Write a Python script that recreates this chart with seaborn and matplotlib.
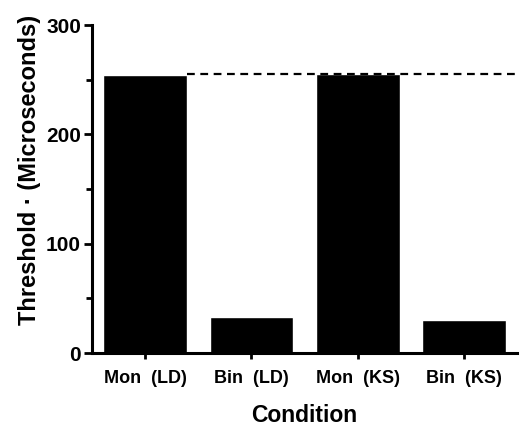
import pandas as pd
import seaborn as sns
import matplotlib.pyplot as plt

# data
conditions = ['Mon  (LD)', 'Bin  (LD)', 'Mon  (KS)', 'Bin  (KS)']
thresholds = [254, 33, 255, 30]
ref_level = 255

df = pd.DataFrame({'Condition': conditions, 'Threshold': thresholds})

sns.set_style('ticks')
plt.rcParams['font.family'] = ['Liberation Sans', 'DejaVu Sans']
plt.rcParams['font.weight'] = 'bold'
plt.rcParams['text.color'] = 'black'
plt.rcParams['axes.labelcolor'] = 'black'
plt.rcParams['xtick.color'] = 'black'
plt.rcParams['ytick.color'] = 'black'
plt.rcParams['axes.edgecolor'] = 'black'

fig = plt.figure(figsize=(5.21, 4.25), dpi=100)
ax = fig.add_axes([0.177, 0.169, 0.815, 0.772])

sns.barplot(x='Condition', y='Threshold', data=df, color='black',
            width=0.79, saturation=1, ax=ax)

# dashed reference line from the first bar to the right edge
ax.plot([0.395, 3.5], [ref_level, ref_level], color='black', lw=1.6,
        ls=(0, (3.5, 2.5)))

ax.set_xlim(-0.5, 3.5)
ax.set_ylim(0, 300)
ax.set_yticks([0, 100, 200, 300])
ax.set_yticks([50, 150, 250], minor=True)
ax.tick_params(axis='y', which='major', length=6, width=2, labelsize=15, pad=2)
ax.tick_params(axis='y', which='minor', length=4, width=2)
ax.tick_params(axis='x', length=4, width=2, labelsize=13, pad=8)

for s in ['top', 'right']:
    ax.spines[s].set_visible(False)
for s in ['left', 'bottom']:
    ax.spines[s].set_linewidth(2.2)

ax.set_xlabel('Condition', fontsize=16.5, fontweight='bold', labelpad=12)
ax.set_ylabel('Threshold · (Microseconds)', fontsize=17, fontweight='bold')
ax.yaxis.set_label_coords(-0.12, 0.56)

fig.savefig('out.png', dpi=100)
